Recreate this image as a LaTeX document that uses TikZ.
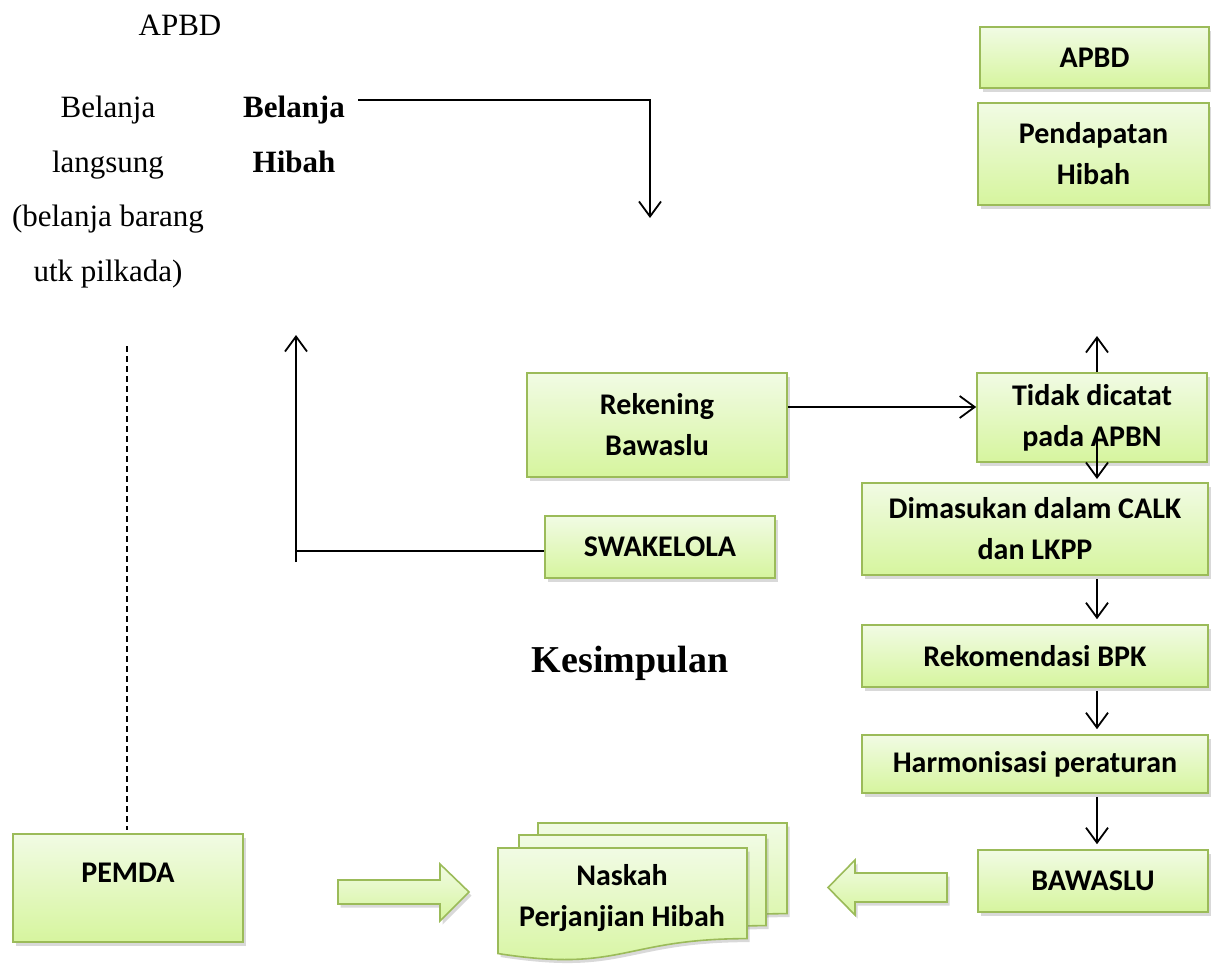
\documentclass[tikz,border=0pt]{standalone}
\usepackage{fontspec}
\setmainfont{Liberation Serif}
\newfontfamily\calfont{Carlito}
\usetikzlibrary{arrows.meta,shadows,calc}
\definecolor{bordergreen}{RGB}{155,187,89}
\definecolor{boxtop}{RGB}{241,251,228}
\definecolor{boxbot}{RGB}{214,245,158}
\tikzset{
  greenfill/.style={draw=bordergreen, line width=1.6pt, top color=boxtop, bottom color=boxbot,
    drop shadow={shadow xshift=2.5pt, shadow yshift=-3.5pt, opacity=0.3}},
  greenbox/.style={greenfill, font=\calfont\bfseries\fontsize{30}{41}\selectfont, align=center, inner sep=0pt},
  boxtext/.style={font=\calfont\bfseries\fontsize{30}{41}\selectfont, align=center, inner sep=0pt},
  conn/.style={line width=1.8pt, draw=black},
  arr/.style={conn, -{Straight Barb[length=15pt,width=22pt,line width=1.8pt]}},
  serif/.style={font=\fontsize{31}{37}\selectfont, anchor=base, inner sep=0pt},
  serifbold/.style={font=\bfseries\fontsize{31}{37}\selectfont, anchor=base, inner sep=0pt},
}
\newcommand\docpath[4]{%
  \path[greenfill] (#1,#2) -- (#3,#2) -- (#3,{#2+0.802*#4})
    .. controls ({(#1+#3)/2},{#2+0.802*#4}) and ({(#1+#3)/2},{#2+1.107*#4}) ..
    (#1,{#2+0.934*#4}) -- cycle;}
\begin{document}
\begin{tikzpicture}[x=1pt,y=-1pt]
\useasboundingbox (0,0) rectangle (1211,964);

% left serif texts
\node[serif] (apbdL) at (180,35) {APBD};
\node[serif] (bl1) at (108,117) {Belanja};
\node[serif] (bl2) at (108,172) {langsung};
\node[serif] (bl3) at (108,226) {(belanja barang};
\node[serif] (bl4) at (108,281) {utk pilkada)};
\node[serifbold] (bh1) at (294,117) {Belanja};
\node[serifbold] (bh2) at (294,172) {Hibah};
\node[font=\bfseries\fontsize{38}{44}\selectfont, anchor=base, inner sep=0pt] (kes) at (630,672) {Kesimpulan};

% boxes
\node[greenbox, minimum width=229pt, minimum height=61pt] (apbdR) at (1094.5,57.5) {APBD};
\node[greenbox, minimum width=231pt, minimum height=102pt] (pend) at (1093.5,154) {Pendapatan\\Hibah};
\node[greenbox, minimum width=260pt, minimum height=104pt] (rek) at (657,425) {Rekening\\Bawaslu};
\node[greenbox, minimum width=230pt, minimum height=62pt] (swa) at (660,547) {SWAKELOLA};
\node[greenbox, minimum width=230pt, minimum height=89pt] (tidak) at (1092,417.5) {Tidak dicatat\\pada APBN};
\node[greenbox, minimum width=346pt, minimum height=92pt] (dimas) at (1035,529) {Dimasukan dalam CALK\\dan LKPP};
\node[greenbox, minimum width=346pt, minimum height=62pt] (rekom) at (1035,656) {Rekomendasi BPK};
\node[greenbox, minimum width=346pt, minimum height=58pt] (harm) at (1035,764) {Harmonisasi peraturan};
\node[greenbox, minimum width=230pt, minimum height=62pt] (baw) at (1093,881) {BAWASLU};
\node[greenbox, minimum width=230pt, minimum height=108pt] (pemda) at (128,888) {};
\node[boxtext] (pemdaT) at (128,873) {PEMDA};

% multi-document
\docpath{538}{823}{787}{113}
\docpath{519}{835}{766}{113}
\docpath{498}{848}{747}{113}
\node[boxtext] (naskah) at (622,898) {Naskah\\Perjanjian Hibah};

% block arrows
\path[greenfill] (338,880) -- (440,880) -- (440,864) -- (469,892) -- (440,921) -- (440,904) -- (338,904) -- cycle;
\path[greenfill] (947,873) -- (855,873) -- (855,860) -- (828,887.5) -- (855,915) -- (855,902) -- (947,902) -- cycle;

% connectors
\coordinate (bs) at (358,100);
\coordinate (be) at (650,218);
\draw[arr] (bs) -| (be);

\coordinate (ub) at (296,562);
\coordinate (ut) at (296,335);
\coordinate (sy) at (296,551);
\draw[arr] (ub) -- (ut);
\draw[conn] (swa.west |- sy) -- (sy);

\coordinate (dt) at (127,346);
\draw[conn, line width=1.4pt, dash pattern=on 6pt off 4pt] (dt) -- ($(pemda.north)+(-1,-3)$);

\coordinate (ry) at (0,407);
\draw[arr] (rek.east |- ry) -- (tidak.west |- ry);

\coordinate (ax) at (1097,0);
\coordinate (upT) at (1097,336);
\draw[arr] (tidak.north -| ax) -- (upT);
\coordinate (dA) at (1097,432);
\coordinate (dB) at (1097,479);
\draw[arr] (dA) -- (dB);
\draw[arr] ($(dimas.south -| ax)+(0,3)$) -- ($(rekom.north -| ax)+(0,-5)$);
\draw[arr] ($(rekom.south -| ax)+(0,3)$) -- ($(harm.north -| ax)+(0,-5)$);
\draw[arr] ($(harm.south -| ax)+(0,3)$) -- ($(baw.north -| ax)+(0,-5)$);
\end{tikzpicture}
\end{document}
